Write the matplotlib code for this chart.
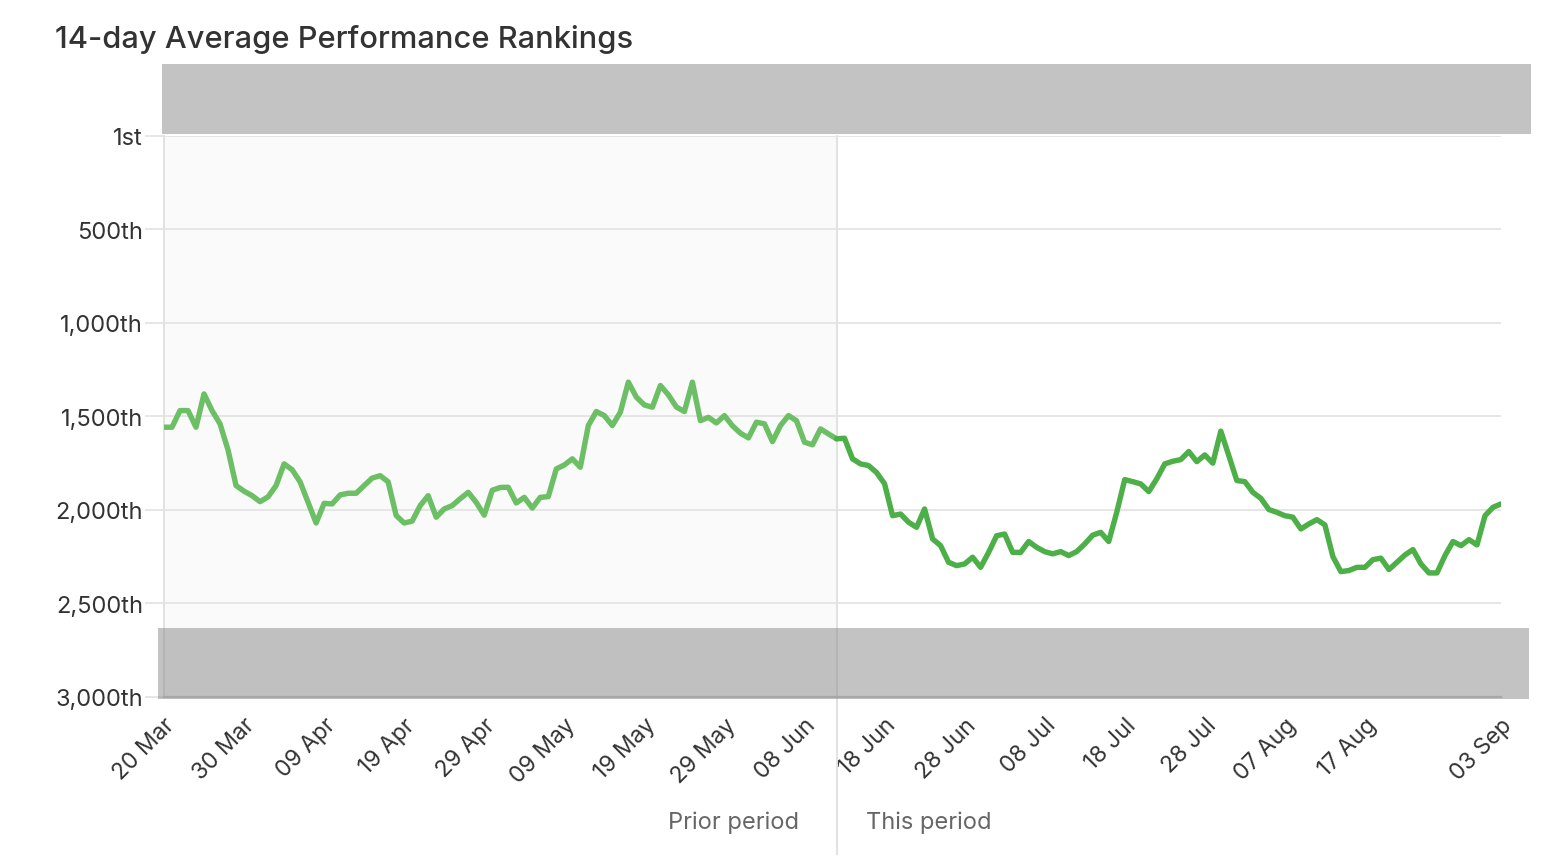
import numpy as np
import pandas as pd
import matplotlib.pyplot as plt
from matplotlib.patches import Rectangle

plt.rcParams['font.family'] = ['Inter', 'DejaVu Sans']

# daily 14-day average rank, 20 Mar .. 03 Sep
rank = [1558, 1558, 1469, 1469, 1558, 1380, 1469, 1540, 1680, 1870,
        1900, 1924, 1956, 1930, 1870, 1754, 1785, 1850, 1960, 2070,
        1965, 1968, 1920, 1911, 1911, 1870, 1830, 1817, 1850, 2030,
        2070, 2060, 1977, 1924, 2039, 1995, 1977, 1940, 1906, 1960,
        2028, 1895, 1880, 1879, 1963, 1933, 1990, 1933, 1929, 1781,
        1760, 1727, 1772, 1549, 1474, 1496, 1549, 1478, 1317, 1397,
        1439, 1451, 1335, 1385, 1450, 1474, 1317, 1523, 1505, 1535,
        1496, 1550, 1590, 1615, 1531, 1540, 1635, 1549, 1496, 1523,
        1638, 1652, 1567, 1594, 1620, 1617, 1727, 1754, 1763, 1800,
        1860, 2031, 2022, 2066, 2093, 1995, 2155, 2191, 2280, 2298,
        2289, 2253, 2307, 2227, 2138, 2129, 2227, 2227, 2169, 2200,
        2223, 2235, 2223, 2244, 2223, 2182, 2135, 2120, 2169, 2013,
        1838, 1849, 1861, 1902, 1834, 1754, 1740, 1731, 1688, 1742,
        1706, 1750, 1579, 1710, 1843, 1849, 1906, 1938, 1998, 2013,
        2031, 2039, 2102, 2075, 2052, 2080, 2250, 2330, 2324, 2307,
        2307, 2266, 2258, 2319, 2280, 2241, 2212, 2289, 2337, 2337,
        2244, 2169, 2191, 2159, 2187, 2031, 1986, 1968]
dates = pd.date_range('2023-03-20', periods=len(rank), freq='D')
split = 84  # index where "this period" starts

tick_dates = pd.to_datetime(['2023-03-20', '2023-03-30', '2023-04-09', '2023-04-19',
                             '2023-04-29', '2023-05-09', '2023-05-19', '2023-05-29',
                             '2023-06-08', '2023-06-18', '2023-06-28', '2023-07-08',
                             '2023-07-18', '2023-07-28', '2023-08-07', '2023-08-17',
                             '2023-09-03'])
y_ticks = [1, 500, 1000, 1500, 2000, 2500, 3000]
y_labels = ['1st', '500th', '1,000th', '1,500th', '2,000th', '2,500th', '3,000th']

fig = plt.figure(figsize=(15.5, 8.62), dpi=100)
ax = fig.add_axes([0.1058, 0.1903, 0.8626, 0.6508])

ax.axvspan(dates[0], dates[split], color='#fafafa', zorder=0, lw=0)
ax.plot(dates[:split + 1], rank[:split + 1], color='#6cbf64', lw=3.9,
        solid_joinstyle='round', solid_capstyle='round', zorder=3)
ax.plot(dates[split:], rank[split:], color='#4caf48', lw=3.9,
        solid_joinstyle='round', solid_capstyle='round', zorder=3)
ax.axvline(dates[split], ymin=-0.28, ymax=1, color='#e2e2e2', lw=1.4,
           clip_on=False, zorder=2)

ax.set_xlim(dates[0], dates[-1])
ax.set_ylim(3000, 1)
ax.set_yticks(y_ticks)
ax.set_yticklabels(y_labels)
ax.set_xticks(tick_dates)
ax.set_xticklabels([d.strftime('%d %b') for d in tick_dates], rotation=45,
                   ha='right', va='top', rotation_mode='anchor')
ax.grid(axis='y', color='#e6e6e6', lw=1.4)
ax.tick_params(axis='y', length=14, color='#e6e6e6', width=1.4, pad=1,
               labelsize=17, labelcolor='#333333')
ax.tick_params(axis='x', length=0, pad=12, labelsize=16.5, labelcolor='#333333')
for s in ['top', 'right']:
    ax.spines[s].set_visible(False)
ax.spines['left'].set_color('#e2e2e2')
ax.spines['left'].set_linewidth(1.4)
ax.spines['bottom'].set_color('#c8c8c8')
ax.spines['bottom'].set_linewidth(1.6)

# grey overlay bands above and below the plotting area
ax.add_patch(Rectangle((-0.0015, 1.0036), 1.024, 0.125, transform=ax.transAxes,
                       facecolor='#888888', alpha=0.5, lw=0, clip_on=False, zorder=5))
ax.add_patch(Rectangle((-0.0045, -0.0036), 1.0255, 0.127, transform=ax.transAxes,
                       facecolor='#888888', alpha=0.5, lw=0, clip_on=False, zorder=5))

ax.annotate('Prior period', xy=(dates[split], -0.2228), xycoords=('data', 'axes fraction'),
            xytext=(-27, 0), textcoords='offset points', ha='right', va='center',
            fontsize=17, color='#666666')
ax.annotate('This period', xy=(dates[split], -0.2228), xycoords=('data', 'axes fraction'),
            xytext=(21, 0), textcoords='offset points', ha='left', va='center',
            fontsize=17, color='#666666')

fig.text(55 / 1550, 1 - 40 / 862, '14-day Average Performance Rankings',
         fontsize=22.2, fontweight='medium', color='#333333', va='center', ha='left')

fig.savefig('out.png', dpi=100)
